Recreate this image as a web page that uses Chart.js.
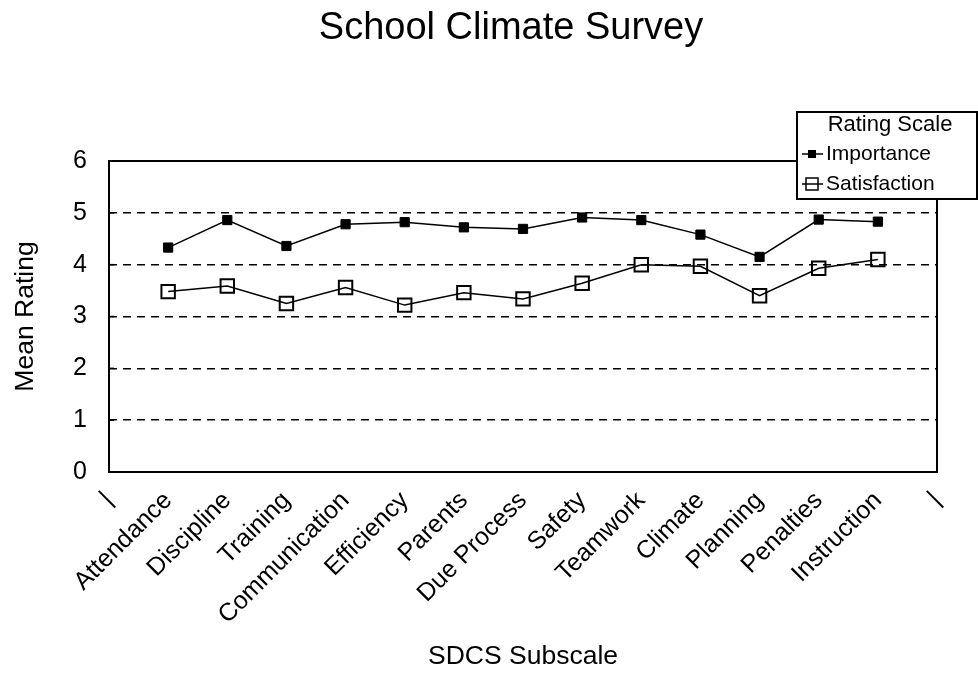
<!DOCTYPE html>
<html>
<head>
<meta charset="utf-8">
<script src="https://cdn.jsdelivr.net/npm/chart.js@4/dist/chart.umd.min.js"></script>
<style>
  html, body { margin: 0; padding: 0; background: #fff; }
  #wrap { width: 978px; height: 677px; position: relative; }
</style>
</head>
<body>
<div id="wrap"><canvas id="c" width="978" height="677"></canvas></div>
<script>
const chartTitle = 'School Climate Survey';
const categories = ['|', 'Attendance', 'Discipline', 'Training', 'Communication', 'Efficiency', 'Parents',
  'Due Process', 'Safety', 'Teamwork', 'Climate', 'Planning', 'Penalties', 'Instruction', '|'];
const importance = [null, 4.33, 4.86, 4.36, 4.78, 4.82, 4.72, 4.69, 4.91, 4.86, 4.58, 4.15, 4.87, 4.83, null];
const satisfaction = [null, 3.48, 3.59, 3.25, 3.56, 3.22, 3.46, 3.34, 3.64, 4.00, 3.97, 3.40, 3.93, 4.10, null];
const yTicks = [0, 1, 2, 3, 4, 5, 6];
const legendTitle = 'Rating Scale';
const xTitle = 'SDCS Subscale';
const yTitle = 'Mean Rating';

const FONT = "Arial, 'Liberation Sans', sans-serif";

const decor = {
  id: 'decor',
  afterDraw(chart) {
    const ctx = chart.ctx;
    const a = chart.chartArea;
    const ys = chart.scales.y;
    ctx.save();
    // plot box
    ctx.strokeStyle = '#000';
    ctx.lineWidth = 2;
    ctx.setLineDash([]);
    ctx.strokeRect(a.left, a.top, a.right - a.left, a.bottom - a.top);
    // inward ticks on left axis
    ctx.lineWidth = 1.5;
    yTicks.forEach(v => {
      const py = ys.getPixelForValue(v);
      ctx.beginPath();
      ctx.moveTo(a.left, py);
      ctx.lineTo(a.left + 5, py);
      ctx.stroke();
    });
    // title
    ctx.fillStyle = '#000';
    ctx.font = '38px ' + FONT;
    ctx.textAlign = 'center';
    ctx.textBaseline = 'middle';
    ctx.fillText(chartTitle, 511, 29);
    // legend box
    const lx = 797, ly = 112, lw = 180, lh = 87;
    ctx.fillStyle = '#fff';
    ctx.fillRect(lx, ly, lw, lh);
    ctx.lineWidth = 2;
    ctx.strokeRect(lx, ly, lw, lh);
    ctx.fillStyle = '#000';
    ctx.font = '22px ' + FONT;
    ctx.textAlign = 'center';
    ctx.fillText(legendTitle, 890, 125);
    ctx.font = '21px ' + FONT;
    ctx.textAlign = 'left';
    const dsets = chart.data.datasets;
    const rows = [154, 184];
    dsets.forEach((ds, i) => {
      const y = rows[i];
      ctx.strokeStyle = '#000';
      ctx.lineWidth = 1.5;
      ctx.beginPath();
      ctx.moveTo(802, y);
      ctx.lineTo(823, y);
      ctx.stroke();
      const s = i === 0 ? 8 : 12;
      if (i === 0) {
        ctx.fillRect(812 - s / 2, y - s / 2, s, s);
      } else {
        ctx.strokeRect(812 - s / 2, y - s / 2, s, s);
      }
      ctx.fillText(ds.label, 826, y);
    });
    ctx.restore();
  }
};

new Chart(document.getElementById('c'), {
  type: 'line',
  data: {
    labels: categories,
    datasets: [
      {
        label: 'Importance',
        data: importance,
        borderColor: '#000',
        borderWidth: 1.5,
        backgroundColor: '#000',
        pointStyle: 'rect',
        pointRadius: 6.5,
        pointBorderWidth: 1,
        pointBackgroundColor: '#000',
        pointBorderColor: '#000',
        tension: 0
      },
      {
        label: 'Satisfaction',
        data: satisfaction,
        borderColor: '#000',
        borderWidth: 1.5,
        backgroundColor: 'rgba(0,0,0,0)',
        pointStyle: 'rect',
        pointRadius: 9.5,
        pointBorderWidth: 2,
        pointBackgroundColor: 'rgba(0,0,0,0)',
        pointBorderColor: '#000',
        tension: 0
      }
    ]
  },
  options: {
    responsive: false,
    animation: false,
    devicePixelRatio: 1,
    layout: { padding: { top: 161, right: 41, left: 0, bottom: 0 } },
    plugins: {
      legend: { display: false },
      title: { display: false },
      tooltip: { enabled: false }
    },
    scales: {
      x: {
        type: 'category',
        offset: false,
        grid: { display: false, drawTicks: false },
        border: { display: false },
        ticks: {
          color: '#000',
          font: { family: FONT, size: 25 },
          minRotation: 45,
          maxRotation: 45,
          autoSkip: false,
          padding: 14
        },
        title: {
          display: true,
          text: xTitle,
          color: '#000',
          font: { family: FONT, size: 26.5 },
          padding: { top: 0, bottom: 4 }
        },
        afterFit(scale) { scale.height = 205; }
      },
      y: {
        min: 0,
        max: 6,
        afterBuildTicks(scale) { scale.ticks = yTicks.map(v => ({ value: v })); },
        grid: {
          drawTicks: false,
          color: ctx => (ctx.tick && ctx.tick.value > 0 && ctx.tick.value < 6) ? '#000' : 'rgba(0,0,0,0)',
          lineWidth: 1.5
        },
        border: { display: false, dash: [8, 6] },
        ticks: {
          color: '#000',
          font: { family: FONT, size: 25 },
          padding: 22
        },
        title: {
          display: true,
          text: yTitle,
          color: '#000',
          font: { family: FONT, size: 26.5 },
          padding: { top: 10, bottom: 0 }
        },
        afterFit(scale) { scale.width = 109; }
      }
    }
  },
  plugins: [decor]
});
</script>
</body>
</html>
